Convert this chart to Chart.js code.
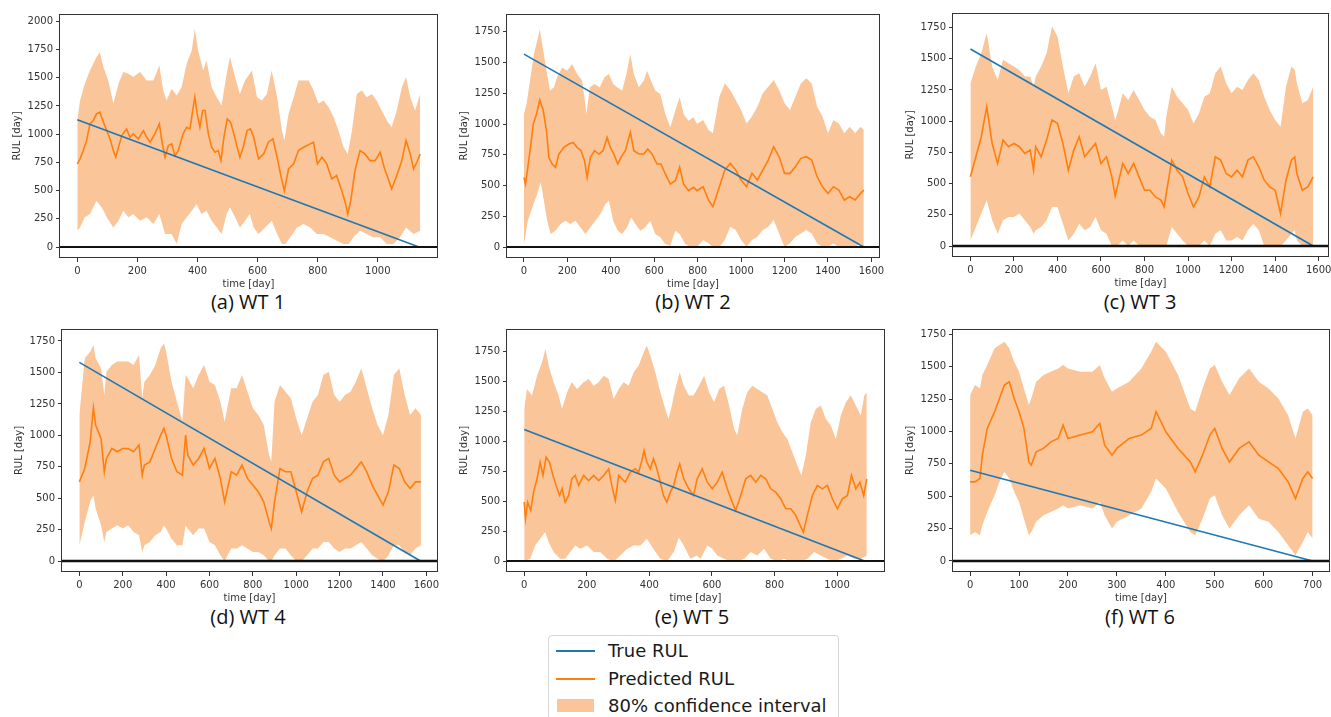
<!DOCTYPE html>
<html>
<head>
<meta charset="utf-8">
<script src="https://cdn.jsdelivr.net/npm/chart.js@4.4.1/dist/chart.umd.min.js"></script>
<style>
  html, body { margin: 0; padding: 0; background: #fff; }
  body { width: 1331px; height: 717px; position: relative; overflow: hidden; font-family: 'DejaVu Sans', sans-serif; }
  canvas { position: absolute; }
  .cap { position: absolute; font-family: 'Open Sans', sans-serif; font-size: 20px; line-height: 20px; color: #111; transform: translate(-50%, -50%); white-space: nowrap; }
  #legend { position: absolute; left: 548px; top: 635px; width: 291px; height: 100px; border: 1px solid #d6d6d6; border-radius: 4px; box-sizing: border-box; background: #fff; }
  #legend .swatch { position: absolute; left: 7px; width: 39px; height: 2px; }
  #legend .patch { position: absolute; left: 8px; width: 37px; height: 13px; }
  #legend .txt { position: absolute; left: 59px; font-size: 18px; line-height: 20px; color: #1a1a1a; transform: translateY(-50%); white-space: nowrap; }
</style>
</head>
<body>

<div class="cap" style="left:248px; top:302px">(a) WT 1</div>
<div class="cap" style="left:693px; top:302px">(b) WT 2</div>
<div class="cap" style="left:1140px; top:302px">(c) WT 3</div>
<div class="cap" style="left:248px; top:617px">(d) WT 4</div>
<div class="cap" style="left:692px; top:617px">(e) WT 5</div>
<div class="cap" style="left:1140px; top:617px">(f) WT 6</div>

<div id="legend">
  <div class="swatch" style="top:14px; background:#1f77b4"></div>
  <div class="txt" style="top:15px">True RUL</div>
  <div class="swatch" style="top:42px; background:#ff7f0e"></div>
  <div class="txt" style="top:43px">Predicted RUL</div>
  <div class="patch" style="top:63px; background:rgb(249,197,153)"></div>
  <div class="txt" style="top:70px">80% confidence interval</div>
</div>

<script>
// tick labels
const rulTicksWide = [0, 250, 500, 750, 1000, 1250, 1500, 1750, 2000];
const rulTicks = [0, 250, 500, 750, 1000, 1250, 1500, 1750];
const dayTicks1000 = [0, 200, 400, 600, 800, 1000];
const dayTicks1600 = [0, 200, 400, 600, 800, 1000, 1200, 1400, 1600];
const dayTicks700 = [0, 100, 200, 300, 400, 500, 600, 700];

// WT 1
const wt1PredTime = [0,9,20,31,42,53,64,75,87,98,109,120,128,137,148,164,175,186,203,220,231,242,258,273,281,292,303,314,325,336,352,364,375,384,391,399,408,417,425,436,447,458,469,478,488,499,510,521,532,541,552,565,576,587,603,620,636,651,665,676,689,703,720,736,753,775,786,799,814,830,847,863,880,893,900,910,924,941,957,974,991,1008,1021,1035,1046,1063,1080,1094,1108,1119,1130,1141];
const wt1Pred = [736,780,855,945,1092,1121,1180,1195,1106,1032,958,855,796,884,988,1047,973,1003,958,1032,973,929,1003,1092,944,796,899,914,810,855,1003,1062,1047,1210,1328,1180,1062,1210,1210,1003,884,840,855,766,973,1136,1106,1003,884,796,884,1032,1047,973,781,825,929,958,796,648,500,692,737,855,884,914,929,737,796,737,604,633,500,382,293,411,677,855,825,766,766,840,707,604,515,633,766,944,825,692,751,825];
const wt1UpperTime = [0,9,25,42,53,64,75,87,103,120,137,153,170,186,209,231,253,273,286,297,314,331,347,364,381,391,402,419,430,447,464,480,497,508,525,541,558,581,598,614,631,647,665,681,689,703,720,736,753,770,786,803,819,836,853,869,886,900,914,930,947,963,980,996,1013,1030,1046,1063,1080,1094,1108,1124,1141];
const wt1Upper = [1121,1298,1446,1565,1624,1683,1727,1594,1476,1269,1446,1550,1535,1506,1550,1476,1476,1609,1387,1298,1402,1343,1417,1624,1742,1934,1742,1565,1653,1417,1328,1254,1535,1683,1506,1357,1476,1565,1328,1298,1357,1565,1328,1032,944,1180,1328,1476,1476,1476,1387,1269,1298,1240,1151,1032,884,825,1032,1357,1387,1328,1357,1298,1210,1121,1062,1210,1417,1506,1328,1210,1357];
const wt1LowerTime = [0,9,25,42,64,81,98,120,137,153,170,186,209,231,253,273,292,314,331,347,364,381,397,413,430,447,464,480,497,508,525,541,558,574,587,603,625,647,665,681,692,709,731,753,775,797,819,842,864,886,903,919,941,963,985,1008,1030,1052,1074,1094,1119,1141];
const wt1Lower = [144,174,263,293,411,352,263,174,234,322,263,293,234,263,204,293,115,115,27,204,263,322,381,293,322,234,174,115,293,352,263,174,234,293,174,115,174,234,115,27,27,86,174,204,174,115,115,86,56,27,27,86,144,115,86,86,27,27,86,174,115,144];
const wt1TrueTime = [0, 1137];
const wt1TrueRul = [1128, 0];

// WT 2
const wt2PredTime = [0,7,18,30,43,58,73,89,104,115,130,145,161,184,207,227,245,263,279,291,306,325,345,364,383,398,414,432,447,467,490,506,529,552,570,590,613,631,651,674,697,717,735,758,781,797,825,850,870,900,925,950,975,1000,1025,1050,1075,1100,1125,1150,1175,1200,1225,1250,1275,1300,1325,1350,1375,1400,1425,1450,1475,1500,1525,1550,1565];
const wt2Pred = [566,512,648,810,1000,1081,1195,1108,945,729,675,648,756,810,837,850,810,783,702,566,729,783,756,783,891,810,756,675,729,783,932,783,756,756,796,756,675,675,594,512,539,648,512,458,485,458,490,382,328,490,626,680,626,545,490,599,545,626,707,815,734,599,599,653,721,734,707,572,490,436,490,463,382,409,382,436,463];
const wt2UpperTime = [0,12,28,46,61,73,89,104,120,138,153,176,199,222,245,268,288,303,325,349,371,391,411,429,452,472,490,506,529,552,567,585,605,628,651,674,697,717,735,758,781,797,825,850,870,900,925,950,975,1000,1025,1050,1075,1100,1125,1150,1175,1200,1225,1250,1275,1300,1325,1350,1375,1400,1425,1450,1475,1500,1525,1550,1565];
const wt2Upper = [1081,1162,1352,1569,1677,1771,1596,1433,1271,1298,1379,1460,1433,1487,1406,1352,1081,1298,1325,1298,1379,1406,1325,1298,1271,1406,1569,1406,1298,1352,1433,1352,1271,1244,1081,973,1108,1217,1081,1027,1054,1000,1033,951,924,1222,1330,1276,1195,1114,1005,1060,1141,1249,1303,1357,1276,1168,1114,1222,1330,1371,1330,1141,1060,924,1033,1005,924,978,924,978,951];
const wt2LowerTime = [0,18,38,61,77,92,107,123,145,169,191,214,237,260,283,306,329,352,375,391,411,432,452,475,494,513,536,559,582,605,628,651,674,697,717,743,766,797,825,850,870,900,925,950,975,1000,1025,1050,1075,1100,1125,1150,1175,1200,1225,1250,1275,1300,1325,1350,1375,1400,1425,1450,1475,1500,1525,1550,1565];
const wt2Lower = [24,214,322,431,526,377,214,106,133,187,214,187,214,160,106,160,214,268,350,377,214,133,106,160,241,187,133,160,214,106,79,24,10,133,106,24,0,0,57,30,0,0,57,165,138,57,0,57,84,138,165,219,111,0,30,84,111,138,111,30,0,0,30,0,0,0,0,30,0];
const wt2TrueTime = [0, 1565];
const wt2TrueRul = [1568, 0];

// WT 3
const wt3Time = [0,25,50,75,100,125,150,175,200,225,250,275,290,300,325,350,375,400,425,450,475,500,525,550,575,600,625,650,665,675,700,725,750,775,800,825,850,875,890,900,925,950,975,1000,1025,1050,1075,1100,1125,1150,1175,1200,1225,1250,1275,1300,1325,1350,1375,1400,1425,1450,1475,1490,1500,1525,1550,1575];
const wt3Pred = [554,714,875,1116,821,661,848,795,821,795,741,768,607,795,714,848,1009,982,821,607,768,875,714,768,821,661,714,554,400,474,661,581,661,554,447,447,393,367,313,420,688,607,554,420,313,393,554,474,714,688,581,554,607,554,688,714,634,527,474,447,260,527,688,714,581,447,474,554];
const wt3Upper = [1303,1437,1544,1705,1437,1330,1491,1464,1437,1410,1357,1357,1276,1357,1437,1544,1758,1678,1437,1223,1357,1383,1276,1357,1464,1250,1276,1116,1009,1062,1223,1169,1250,1169,1089,1036,1009,902,875,1036,1276,1196,1143,1089,982,1062,1196,1223,1383,1437,1303,1223,1276,1250,1330,1383,1330,1196,1089,1009,955,1276,1437,1410,1303,1143,1169,1276];
const wt3Lower = [45,153,260,367,206,99,206,233,233,260,206,153,99,126,153,206,313,313,179,45,99,179,126,153,233,126,99,0,0,0,45,0,45,0,0,0,0,0,0,0,153,99,45,0,0,0,45,0,99,126,45,45,72,45,126,179,126,0,0,0,0,45,99,126,45,0,0,0];
const wt3TrueTime = [0, 1575];
const wt3TrueRul = [1578, 0];

// WT 4
const wt4Time = [0,25,50,65,75,100,115,125,150,175,200,225,250,275,290,300,325,350,375,390,400,425,450,475,490,500,525,550,575,600,625,650,670,700,725,750,775,800,825,850,875,885,900,925,950,975,1000,1025,1050,1075,1100,1125,1150,1175,1200,1225,1250,1275,1300,1325,1350,1375,1400,1425,1450,1475,1500,1525,1550,1575];
const wt4Pred = [631,737,949,1220,1082,976,711,817,896,870,896,896,870,923,684,764,790,896,1002,1055,1002,817,711,684,1002,843,764,817,896,737,817,658,472,711,684,764,658,605,552,472,313,260,472,737,711,711,552,393,552,658,684,790,817,684,631,658,684,737,790,711,605,525,446,552,764,737,631,578,631,631];
const wt4Upper = [1161,1612,1665,1718,1612,1533,1321,1506,1559,1586,1586,1586,1559,1639,1294,1427,1480,1559,1692,1732,1665,1427,1268,1108,1480,1453,1374,1480,1559,1427,1400,1268,1108,1374,1374,1480,1347,1215,1161,1082,843,790,1268,1400,1347,1294,1135,1002,1135,1268,1321,1480,1506,1321,1268,1321,1347,1427,1533,1374,1215,1082,1002,1161,1480,1533,1321,1161,1215,1161];
const wt4Lower = [127,313,472,525,419,286,154,233,260,286,260,286,233,207,74,127,154,207,233,286,260,180,127,127,286,260,207,260,260,154,127,48,0,101,101,127,101,74,74,48,0,0,48,101,101,48,0,0,48,101,101,154,154,101,74,101,101,127,154,101,48,21,0,48,127,127,74,48,101,127];
const wt4TrueTime = [0, 1575];
const wt4TrueRul = [1580, 0];

// WT 5
const wt5PredTime = [0,4,11,21,30,41,51,60,70,81,92,102,113,121,131,142,152,163,174,190,206,222,238,254,270,280,291,302,312,323,339,355,366,376,383,392,403,413,424,435,445,456,467,478,488,497,510,526,541,553,569,585,601,617,633,649,665,676,692,708,724,740,756,772,788,804,820,836,852,868,882,892,905,921,937,953,969,985,1001,1017,1033,1046,1060,1073,1085,1095];
const wt5Pred = [493,355,493,424,576,687,825,715,867,825,715,632,549,604,493,549,687,715,632,715,673,715,673,715,770,632,507,715,687,659,742,770,742,839,922,825,770,853,770,659,549,493,576,632,742,811,687,604,549,687,770,659,604,659,742,604,493,424,549,687,715,659,715,687,604,576,521,438,438,383,300,244,383,549,632,604,632,521,438,521,549,715,604,659,549,687];
const wt5UpperTime = [0,9,25,41,57,68,78,94,110,121,137,152,169,190,206,222,238,254,270,286,302,318,334,350,366,382,392,403,419,435,451,461,472,483,497,510,526,541,559,575,591,607,623,639,655,671,681,697,713,729,745,761,777,793,809,825,841,857,873,886,900,916,932,948,964,980,996,1012,1028,1044,1060,1076,1087,1095];
const wt5Upper = [1268,1435,1379,1545,1656,1767,1629,1490,1379,1268,1407,1490,1435,1490,1518,1462,1490,1545,1518,1351,1435,1490,1462,1573,1629,1739,1795,1712,1573,1407,1268,1185,1296,1435,1573,1462,1379,1379,1462,1545,1407,1324,1435,1462,1296,1102,1047,1268,1407,1462,1435,1407,1379,1268,1157,1074,1019,908,798,715,881,1157,1268,1296,1185,1130,1019,1213,1324,1379,1296,1213,1379,1407];
const wt5LowerTime = [0,19,35,51,67,78,94,115,131,147,163,179,201,222,243,265,286,307,329,350,371,392,413,435,456,478,494,510,531,552,564,585,601,617,639,660,681,703,724,745,767,788,809,831,852,884,905,927,948,969,990,1012,1033,1055,1076,1095];
const wt5Lower = [0,22,133,188,244,161,78,22,22,78,133,105,133,78,78,22,0,50,105,133,133,188,105,22,0,78,199,133,22,50,22,133,105,50,22,0,0,22,78,50,105,22,0,22,0,0,22,78,50,22,0,22,50,22,22,50];
const wt5TrueTime = [0, 1092];
const wt5TrueRul = [1098, 0];

// WT 6
const wt6Time = [0,10,20,25,35,50,60,70,80,90,100,110,120,125,135,150,165,180,190,200,225,250,265,275,290,300,325,350,370,380,400,425,450,460,475,490,500,515,530,550,570,590,610,630,650,665,680,690,700];
const wt6Pred = [611,611,637,817,1023,1152,1255,1358,1384,1255,1152,1023,765,740,843,869,920,946,1049,946,972,997,1062,894,817,869,946,972,1023,1152,997,869,765,688,817,972,1023,869,765,869,920,817,765,714,611,482,637,688,637];
const wt6Upper = [1281,1358,1332,1436,1513,1642,1668,1693,1642,1539,1461,1332,1204,1255,1384,1436,1461,1487,1513,1487,1461,1461,1513,1410,1307,1332,1384,1487,1616,1693,1616,1436,1178,1152,1332,1487,1513,1384,1281,1410,1487,1384,1332,1255,1126,946,1152,1178,1126];
const wt6Lower = [198,224,198,276,379,508,611,688,637,534,456,327,198,224,302,353,379,405,430,405,430,405,456,353,250,302,353,405,534,637,559,379,224,198,327,482,508,353,250,353,430,327,302,224,121,44,147,224,173];
const wt6TrueTime = [0, 700];
const wt6TrueRul = [700, 0];

const BLUE = '#1f77b4';
const ORANGE = '#ff7f0e';
const BAND = 'rgb(249,197,153)';

Chart.defaults.font.family = "'DejaVu Sans', sans-serif";
Chart.defaults.font.size = 10;
Chart.defaults.color = '#333';

// plot-area boxes [left, top, right, bottom] in page pixels and axis ranges
const panels = [
  { box: [60, 14, 437, 258], x: [-57.6, 1197], y: [-97, 2065], xTicks: dayTicks1000, yTicks: rulTicksWide, zeroWidth: 1.8,
    predTime: wt1PredTime, pred: wt1Pred, upperTime: wt1UpperTime, upper: wt1Upper, lowerTime: wt1LowerTime, lower: wt1Lower,
    trueTime: wt1TrueTime, trueRul: wt1TrueRul },
  { box: [507, 14, 879, 258], x: [-78, 1635], y: [-89, 1894], xTicks: dayTicks1600, yTicks: rulTicks, zeroWidth: 1.8,
    predTime: wt2PredTime, pred: wt2Pred, upperTime: wt2UpperTime, upper: wt2Upper, lowerTime: wt2LowerTime, lower: wt2Lower,
    trueTime: wt2TrueTime, trueRul: wt2TrueRul },
  { box: [953, 13, 1328, 257], x: [-80, 1643], y: [-88, 1866], xTicks: dayTicks1600, yTicks: rulTicks, zeroWidth: 2.4,
    predTime: wt3Time, pred: wt3Pred, upperTime: wt3Time, upper: wt3Upper, lowerTime: wt3Time, lower: wt3Lower,
    trueTime: wt3TrueTime, trueRul: wt3TrueRul },
  { box: [62, 329, 437, 572], x: [-80, 1649], y: [-85, 1845], xTicks: dayTicks1600, yTicks: rulTicks, zeroWidth: 2.4,
    predTime: wt4Time, pred: wt4Pred, upperTime: wt4Time, upper: wt4Upper, lowerTime: wt4Time, lower: wt4Lower,
    trueTime: wt4TrueTime, trueRul: wt4TrueRul },
  { box: [507, 329, 884, 572], x: [-55, 1150], y: [-88, 1933], xTicks: dayTicks1000, yTicks: rulTicks, zeroWidth: 1.8,
    predTime: wt5PredTime, pred: wt5Pred, upperTime: wt5UpperTime, upper: wt5Upper, lowerTime: wt5LowerTime, lower: wt5Lower,
    trueTime: wt5TrueTime, trueRul: wt5TrueRul },
  { box: [953, 329, 1329, 572], x: [-35, 733.5], y: [-85, 1791], xTicks: dayTicks700, yTicks: rulTicks, zeroWidth: 2.4,
    predTime: wt6Time, pred: wt6Pred, upperTime: wt6Time, upper: wt6Upper, lowerTime: wt6Time, lower: wt6Lower,
    trueTime: wt6TrueTime, trueRul: wt6TrueRul }
];

// axes frame and the black line at RUL = 0
const framePlugin = {
  id: 'frame',
  afterDatasetsDraw(chart, args, opts) {
    const { ctx, chartArea: a } = chart;
    const y0 = Math.round(chart.scales.y.getPixelForValue(0));
    ctx.save();
    ctx.strokeStyle = '#111';
    ctx.lineWidth = opts.zeroWidth || 1.8;
    ctx.beginPath();
    ctx.moveTo(a.left, y0);
    ctx.lineTo(a.right, y0);
    ctx.stroke();
    ctx.strokeStyle = '#333';
    ctx.lineWidth = 1;
    ctx.strokeRect(Math.round(a.left) - 0.5, Math.round(a.top) + 0.5,
                   Math.round(a.right - a.left) + 1, Math.round(a.bottom - a.top) - 1);
    ctx.restore();
  }
};

function toPoints(xs, ys) {
  return xs.map((x, i) => ({ x: x, y: ys[i] }));
}

function renderPanel(p) {
  const [L, T, R, B] = p.box;
  const w = R - L + 60 + 15;
  const h = B - T + 12 + 40;
  const canvas = document.createElement('canvas');
  canvas.width = w;
  canvas.height = h;
  canvas.style.left = (L - 60) + 'px';
  canvas.style.top = (T - 12) + 'px';
  canvas.style.width = w + 'px';
  canvas.style.height = h + 'px';
  document.body.appendChild(canvas);

  new Chart(canvas, {
    type: 'line',
    data: {
      datasets: [
        { label: 'True RUL', data: toPoints(p.trueTime, p.trueRul), borderColor: BLUE, borderWidth: 1.6, order: 0 },
        { label: 'Predicted RUL', data: toPoints(p.predTime, p.pred), borderColor: ORANGE, borderWidth: 1.6, order: 1 },
        { label: '80% confidence interval', data: toPoints(p.upperTime, p.upper), borderColor: 'transparent', borderWidth: 0,
          backgroundColor: BAND, fill: '+1', order: 2 },
        { label: 'lower', data: toPoints(p.lowerTime, p.lower), borderColor: 'transparent', borderWidth: 0, fill: false, order: 3 }
      ]
    },
    options: {
      responsive: false,
      animation: false,
      layout: { padding: { left: 0, top: 12, right: 15, bottom: 0 } },
      elements: { point: { radius: 0 }, line: { tension: 0 } },
      plugins: { legend: { display: false }, tooltip: { enabled: false }, frame: { zeroWidth: p.zeroWidth } },
      scales: {
        x: {
          type: 'linear', min: p.x[0], max: p.x[1],
          afterBuildTicks: s => { s.ticks = p.xTicks.map(v => ({ value: v })); },
          afterFit: s => { s.height = 40; },
          ticks: { color: '#333', padding: 3, maxRotation: 0, autoSkip: false, callback: v => String(v) },
          grid: { drawOnChartArea: false, drawTicks: true, tickLength: 4, color: '#333' },
          border: { display: false },
          title: { display: true, text: 'time [day]', color: '#333', padding: { top: 0, bottom: 8 } }
        },
        y: {
          type: 'linear', min: p.y[0], max: p.y[1],
          afterBuildTicks: s => { s.ticks = p.yTicks.map(v => ({ value: v })); },
          afterFit: s => { s.width = 60; },
          ticks: { color: '#333', padding: 3, autoSkip: false, callback: v => String(v) },
          grid: { drawOnChartArea: false, drawTicks: true, tickLength: 4, color: '#333' },
          border: { display: false },
          title: { display: true, text: 'RUL [day]', color: '#333', padding: { top: 11, bottom: 0 } }
        }
      }
    },
    plugins: [framePlugin]
  });
}

panels.forEach(renderPanel);
</script>
</body>
</html>
